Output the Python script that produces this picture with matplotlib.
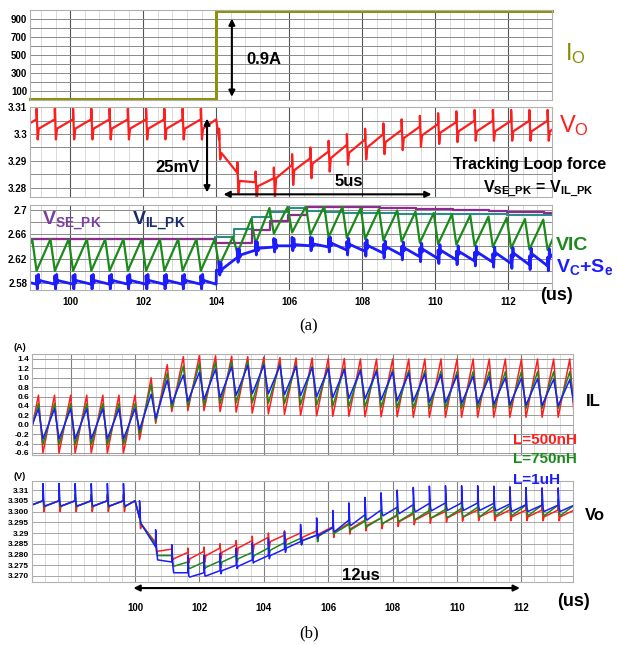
import numpy as np
import matplotlib
matplotlib.use('Agg')
import matplotlib.pyplot as plt
from matplotlib.ticker import MultipleLocator
from bisect import bisect_right

plt.rcParams['font.family'] = ['Liberation Sans', 'DejaVu Sans']
plt.rcParams['mathtext.fontset'] = 'custom'
plt.rcParams['mathtext.rm'] = 'Liberation Sans'
plt.rcParams['mathtext.bf'] = 'Liberation Sans:bold'

# ---------------- panel (a) data ----------------
io_t = [98.9, 104.0, 104.0, 113.2]
io_v = [10, 10, 985, 985]

# switching instants (us) of panel (a)
ts_a = [98.58, 99.08, 99.58, 100.08, 100.58, 101.08, 101.58, 102.08, 102.58, 103.08,
        103.58, 104.08, 104.58, 105.08, 105.58, 106.08, 106.58, 107.08, 107.58, 108.08,
        108.58, 109.08, 109.58, 110.08, 110.58, 111.08, 111.58, 112.08, 112.58, 113.08,
        113.58]
# Vo before / after each switching spike
vo_a_pre = [3.3055] * 11 + [3.298, 3.2855, 3.282, 3.2835, 3.2885, 3.291, 3.2935, 3.296,
                            3.298, 3.300, 3.3015, 3.3028, 3.3038, 3.3045] + [3.305] * 6
vo_a_post = [3.302] * 11 + [3.293, 3.2825, 3.2805, 3.2835, 3.2865, 3.289, 3.291, 3.293,
                            3.295, 3.297, 3.2985, 3.2995, 3.3005] + [3.301] * 7
# VIC peaks / valleys
vic_peak = [2.652] * 12 + [2.656, 2.685, 2.703, 2.705, 2.706, 2.706, 2.705, 2.703, 2.701,
                           2.699, 2.697, 2.695, 2.693, 2.691, 2.689, 2.687, 2.685, 2.684, 2.683]
vic_valley = [2.600] * 11 + [2.608, 2.629, 2.645, 2.661, 2.663, 2.659, 2.655, 2.654, 2.652,
                             2.650, 2.648, 2.646, 2.644, 2.643, 2.641, 2.639, 2.637, 2.635,
                             2.634, 2.633]
# Vc+Se before / after spike
vcse_pre = [2.578] * 11 + [2.601, 2.622, 2.634, 2.639, 2.641, 2.641, 2.639, 2.634, 2.632,
                           2.629, 2.626, 2.623, 2.620, 2.618, 2.616, 2.614, 2.612, 2.610,
                           2.608, 2.607]
vcse_post = [2.584] * 11 + [2.603, 2.626, 2.637, 2.641, 2.643, 2.644, 2.645, 2.643, 2.641,
                            2.639, 2.637, 2.635, 2.633, 2.631, 2.630, 2.629, 2.628, 2.627,
                            2.626, 2.625]
# peak staircases
se_pk = [2.653] * 11 + [2.645, 2.645, 2.667, 2.682, 2.692, 2.704, 2.705, 2.7045, 2.704,
                        2.7035, 2.703, 2.702, 2.701, 2.700, 2.699, 2.698, 2.697, 2.696,
                        2.695, 2.694]
il_pk = [2.653] * 11 + [2.655, 2.669, 2.689, 2.697, 2.703, 2.698, 2.696, 2.695, 2.695,
                        2.6945, 2.694, 2.694, 2.6935, 2.693, 2.693, 2.6925, 2.692, 2.692,
                        2.6915, 2.691]

# ---------------- panel (b) data ----------------
ts_b = [96.64, 97.14, 97.64, 98.14, 98.64, 99.14, 99.64, 100.14, 100.64, 101.14, 101.64,
        102.14, 102.64, 103.14, 103.64, 104.14, 104.64, 105.14, 105.64, 106.14, 106.64,
        107.14, 107.64, 108.14, 108.64, 109.14, 109.64, 110.14, 110.64, 111.14, 111.64,
        112.14, 112.64, 113.14, 113.64]
inductors = ['L=500nH', 'L=750nH', 'L=1uH']

il_peak_500 = [0.63] * 8 + [1.00, 1.28, 1.45, 1.48, 1.47, 1.46, 1.45, 1.44, 1.43,
                            1.42, 1.42, 1.41, 1.41] + [1.40] * 14
il_valley_500 = [-0.60] * 7 + [-0.32, 0.03, 0.28, 0.30, 0.30, 0.28, 0.27, 0.25, 0.23, 0.22,
                               0.20, 0.19, 0.18, 0.18, 0.17, 0.17, 0.17] + [0.16] * 11
il_peak_750 = [0.45] * 8 + [0.85, 1.10, 1.25, 1.31, 1.33, 1.34, 1.35, 1.33, 1.30,
                            1.28, 1.25, 1.23, 1.21, 1.19, 1.18, 1.17, 1.16, 1.15, 1.14] + [1.13] * 8
il_valley_750 = [-0.42] * 7 + [-0.20, 0.08, 0.35, 0.40, 0.42, 0.45, 0.47, 0.47, 0.46, 0.45,
                               0.43, 0.42, 0.40, 0.39, 0.38, 0.37, 0.36] + [0.35] * 11
il_peak_1u = [0.34] * 8 + [0.65, 0.95, 1.06, 1.12, 1.18, 1.23, 1.26, 1.27, 1.26,
                           1.24, 1.22, 1.20, 1.18, 1.16, 1.14, 1.12, 1.10, 1.08, 1.06, 1.05,
                           1.03, 1.02, 1.00, 0.99, 0.98, 0.97, 0.96]
il_valley_1u = [-0.30] * 7 + [-0.10, 0.14, 0.45, 0.50, 0.54, 0.58, 0.63, 0.66, 0.66, 0.64,
                              0.62, 0.60, 0.58, 0.56, 0.55, 0.53, 0.51, 0.50, 0.48, 0.47, 0.46,
                              0.45, 0.44, 0.43, 0.42, 0.41, 0.40, 0.40]

vo_pre_500 = [3.305] * 7 + [3.297, 3.2855, 3.2825, 3.281, 3.2815, 3.283, 3.2845, 3.2865,
                            3.288, 3.289, 3.290, 3.291, 3.2929, 3.2945, 3.296, 3.297, 3.298,
                            3.2988, 3.2995, 3.300, 3.3005] + [3.3007] * 7
vo_post_500 = [3.3025] * 7 + [3.294, 3.2815, 3.278, 3.278, 3.2795, 3.281, 3.283, 3.2845,
                              3.286, 3.287, 3.288, 3.2895, 3.2905, 3.292, 3.2935, 3.2945,
                              3.2953, 3.296, 3.297, 3.297] + [3.2975] * 8
vo_pre_750 = [3.305] * 7 + [3.297, 3.2845, 3.2795, 3.2765, 3.2765, 3.277, 3.2795, 3.281,
                            3.283, 3.2855, 3.2875, 3.289, 3.2925, 3.294, 3.2955, 3.297,
                            3.2985, 3.2995, 3.3005, 3.301, 3.3015, 3.302, 3.3025, 3.3027,
                            3.303, 3.303, 3.303, 3.303]
vo_post_750 = [3.3025] * 7 + [3.294, 3.2795, 3.2745, 3.2735, 3.274, 3.2765, 3.278, 3.2795,
                              3.282, 3.2845, 3.2865, 3.2885, 3.290, 3.2915, 3.293, 3.2945,
                              3.2955, 3.2963, 3.297, 3.2972, 3.2975, 3.2975] + [3.298] * 6
vo_pre_1u = [3.305] * 7 + [3.297, 3.2835, 3.2765, 3.2715, 3.2715, 3.2725, 3.275, 3.2775,
                           3.2795, 3.2825, 3.286, 3.289, 3.2925, 3.296, 3.2985, 3.3007,
                           3.302, 3.3032, 3.3038, 3.304, 3.304, 3.304, 3.3038, 3.3035,
                           3.3032, 3.303, 3.303, 3.303]
vo_post_1u = [3.3025] * 7 + [3.294, 3.2775, 3.2715, 3.2695, 3.270, 3.2725, 3.2745, 3.2765,
                             3.2795, 3.283, 3.2865, 3.289, 3.2907, 3.2935, 3.296, 3.298,
                             3.299, 3.2998, 3.3003, 3.3005, 3.3005, 3.3005, 3.3003] + [3.300] * 5


def build(ts, pre, post, spike, extra=()):
    # polyline: value `pre` just before each switching edge, spike, then `post`
    t, v = [], []
    for k in range(len(ts)):
        t.append(ts[k])
        v.append(pre[k])
        if k == len(ts) - 1:
            break
        for dt, base, off in spike:
            t.append(ts[k] + dt)
            v.append((pre[k] if base == 'pre' else post[k]) + off)
    for te, ve in extra:
        i = bisect_right(t, te)
        t.insert(i, te)
        v.insert(i, ve)
    return t, v


def saw(ts, peak, valley, fall):
    t, v = [], []
    for k in range(len(ts)):
        t += [ts[k] - fall, ts[k]]
        v += [peak[k], valley[k]]
    return t, v


W, H = 618, 645


def box(l, t, r, b):
    return [l / W, 1 - b / H, (r - l) / W, (b - t) / H]


def ftext(x, y, s, **kw):
    fig.text(x / W, 1 - y / H, s, **kw)


fig = plt.figure(figsize=(6.18, 6.45), dpi=100)


def style(ax, xlim, ylim, yticks, ylabels, yminor, ysize=7, xmajor='#555555', ygrid='#8a8a8a'):
    ax.set_xlim(*xlim)
    ax.set_ylim(*ylim)
    ax.xaxis.set_major_locator(MultipleLocator(2))
    ax.xaxis.set_minor_locator(MultipleLocator(0.4))
    ax.set_yticks(yticks)
    ax.set_yticklabels(ylabels, fontsize=ysize, fontweight='bold')
    if yminor:
        ax.yaxis.set_minor_locator(MultipleLocator(yminor))
    ax.grid(axis='x', which='major', color=xmajor, lw=0.8)
    ax.grid(axis='x', which='minor', color='#d4d4d4', lw=0.6)
    ax.grid(axis='y', which='both', color=ygrid, lw=0.7)
    ax.set_axisbelow(True)
    ax.tick_params(which='both', length=0, pad=2)
    for s in ax.spines.values():
        s.set_color('#b0b0b0')
        s.set_linewidth(0.8)


xa = (98.9, 113.2)
xb = (96.8, 113.6)

# Io
ax1 = fig.add_axes(box(30, 10, 552, 100))
style(ax1, xa, (0, 1000), [900, 700, 500, 300, 100], ['900', '700', '500', '300', '100'], 100)
ax1.plot(io_t, io_v, color='#8f8f10', lw=2.2, clip_on=False)
ax1.tick_params(labelbottom=False)
ax1.annotate('', xy=(104.43, 905), xytext=(104.43, 35),
             arrowprops=dict(arrowstyle='<|-|>', color='black', lw=1.5,
                             mutation_scale=9, shrinkA=0, shrinkB=0))

# Vo (a)
ax2 = fig.add_axes(box(30, 107, 552, 197))
style(ax2, xa, (3.2765, 3.3101), [3.31, 3.30, 3.29, 3.28], ['3.31', '3.3', '3.29', '3.28'], 0.005)
t, v = build(ts_a, vo_a_pre, vo_a_post,
             [(0.0, 'pre', 0.004), (0.03, 'pre', -0.0075), (0.06, 'post', 0.0)],
             extra=[(104.0, 3.3055)])
ax2.plot(t, v, color='#ff1e1e', lw=1.6)
ax2.tick_params(labelbottom=False)
ax2.annotate('', xy=(103.75, 3.3058), xytext=(103.75, 3.2782),
             arrowprops=dict(arrowstyle='<|-|>', color='black', lw=1.5,
                             mutation_scale=9, shrinkA=0, shrinkB=0), annotation_clip=False)
ax2.annotate('', xy=(104.2, 3.2775), xytext=(109.9, 3.2775),
             arrowprops=dict(arrowstyle='<|-|>', color='black', lw=1.5,
                             mutation_scale=9, shrinkA=0, shrinkB=0), annotation_clip=False)

# VIC / Vc+Se (a)
ax3 = fig.add_axes(box(30, 205, 552, 290))
style(ax3, xa, (2.5685, 2.708), [2.70, 2.66, 2.62, 2.58], ['2.7', '2.66', '2.62', '2.58'], 0.02)
ax3.set_xticks([100, 102, 104, 106, 108, 110, 112])
ax3.set_xticklabels(['100', '102', '104', '106', '108', '110', '112'], fontsize=7, fontweight='bold')
ax3.tick_params(axis='x', pad=5)
ax3.step(np.array(ts_a) - 0.1, il_pk, where='post', color='#2a8c8c', lw=1.5)
ax3.step(np.array(ts_a) - 0.1, se_pk, where='post', color='#8e2a8e', lw=1.6)
t, v = saw(ts_a, vic_peak, vic_valley, 0.12)
ax3.plot(t, v, color='#1a8a1a', lw=1.6)
t, v = build(ts_a, vcse_pre, vcse_post,
             [(0.0, 'pre', 0.014), (0.02, 'pre', -0.008), (0.05, 'post', 0.01),
              (0.07, 'post', -0.004), (0.09, 'post', 0.0)],
             extra=[(104.0, 2.578), (104.005, 2.601)])
ax3.plot(t, v, color='#1c1cff', lw=2.0)

# IL (b)
ax4 = fig.add_axes(box(32, 354, 573, 455))
il_ticks = [1.4, 1.2, 1.0, 0.8, 0.6, 0.4, 0.2, 0.0, -0.2, -0.4, -0.6]
style(ax4, xb, (-0.643, 1.506), il_ticks, ['%.1f' % y for y in il_ticks], None, 6,
      xmajor='#808080', ygrid='#9a9a9a')
ax4.tick_params(labelbottom=False)
for pk, vl, c in [(il_peak_500, il_valley_500, '#ff1e1e'),
                  (il_peak_750, il_valley_750, '#1a8a1a'),
                  (il_peak_1u, il_valley_1u, '#1c1cff')]:
    t, v = saw(ts_b, pk, vl, 0.14)
    ax4.plot(t, v, color=c, lw=1.1)
ax4.text(-0.035, 1.02, '(A)', transform=ax4.transAxes, fontsize=6.5, fontweight='bold',
         ha='left', va='bottom')

# Vo (b)
ax5 = fig.add_axes(box(32, 481, 573, 582))
vo_ticks = [3.31, 3.305, 3.300, 3.295, 3.29, 3.285, 3.280, 3.275, 3.270]
style(ax5, xb, (3.2672, 3.3142), vo_ticks,
      ['3.31', '3.305', '3.300', '3.295', '3.29', '3.285', '3.280', '3.275', '3.270'], None, 6,
      xmajor='#808080', ygrid='#a8a8a8')
ax5.set_xticks([100, 102, 104, 106, 108, 110, 112])
ax5.set_xticklabels(['100', '102', '104', '106', '108', '110', '112'], fontsize=7, fontweight='bold')
ax5.tick_params(axis='x', pad=15)
spikes_b = [[(0.0, 'pre', 0.002), (0.03, 'pre', -0.005), (0.06, 'post', 0.0)],
            [(0.0, 'pre', 0.003), (0.03, 'pre', -0.003), (0.06, 'post', 0.0)],
            [(0.0, 'pre', 0.008), (0.03, 'pre', -0.0015), (0.06, 'post', 0.0)]]
for pre, post, sp, c in [(vo_pre_500, vo_post_500, spikes_b[0], '#ff1e1e'),
                         (vo_pre_750, vo_post_750, spikes_b[1], '#1a8a1a'),
                         (vo_pre_1u, vo_post_1u, spikes_b[2], '#1c1cff')]:
    t, v = build(ts_b, pre, post, sp, extra=[(100.0, 3.305)])
    ax5.plot(t, v, color=c, lw=1.1)
ax5.text(-0.035, 1.0, '(V)', transform=ax5.transAxes, fontsize=6.5, fontweight='bold',
         ha='left', va='bottom')
ax5.annotate('', xy=(99.95, -0.06), xytext=(111.95, -0.06),
             xycoords=('data', 'axes fraction'), textcoords=('data', 'axes fraction'),
             arrowprops=dict(arrowstyle='<|-|>', color='black', lw=1.5,
                             mutation_scale=9, shrinkA=0, shrinkB=0), annotation_clip=False)

# ---------------- labels ----------------
bold = dict(fontweight='bold')
ftext(565, 54, r'$\mathrm{I_O}$', fontsize=17, color='#8a8a00', va='center')
ftext(559, 126, r'$\mathrm{V_O}$', fontsize=17, color='#ff1e1e', va='center')
ftext(264, 59, '0.9A', fontsize=12, ha='center', va='center', **bold)
ftext(178, 168, '25mV', fontsize=12, ha='center', va='center', **bold)
ftext(349, 181, '5us', fontsize=12, ha='center', va='center', **bold)
ftext(453, 165, 'Tracking Loop force', fontsize=11.5, ha='left', va='center', **bold)
ftext(538, 189, r'$\mathbf{V_{SE\_PK}}$ = $\mathbf{V_{IL\_PK}}$', fontsize=11.5,
      ha='center', va='center', **bold)
ftext(42, 221, r'$\mathbf{V_{SE\_PK}}$', fontsize=14, color='#7b3f9f', va='center')
ftext(132, 221, r'$\mathbf{V_{IL\_PK}}$', fontsize=14, color='#1c2a6b', va='center')
ftext(556, 246, 'VIC', fontsize=14, color='#1a8a1a', va='center', **bold)
ftext(556, 267, r'$\mathbf{V_C}$+$\mathbf{S_e}$', fontsize=14, color='#1c1cff', va='center', **bold)
ftext(540, 296, '(us)', fontsize=13, va='center', **bold)
ftext(309, 326, '(a)', fontsize=12, ha='center', va='center', family='Liberation Serif')

ftext(586, 402, 'IL', fontsize=12, va='center', **bold)
ftext(513, 440, inductors[0], fontsize=11, color='#ff1e1e', va='center', **bold)
ftext(513, 459, inductors[1], fontsize=11, color='#1a8a1a', va='center', **bold)
ftext(513, 480, inductors[2], fontsize=11, color='#1c1cff', va='center', **bold)
ftext(585, 515, 'Vo', fontsize=12, va='center', **bold)
ftext(361, 576, '12us', fontsize=12, ha='center', va='center', **bold)
ftext(557, 602, '(us)', fontsize=13, va='center', **bold)
ftext(309, 633, '(b)', fontsize=12, ha='center', va='center', family='Liberation Serif')

fig.savefig('out.png', dpi=100)
